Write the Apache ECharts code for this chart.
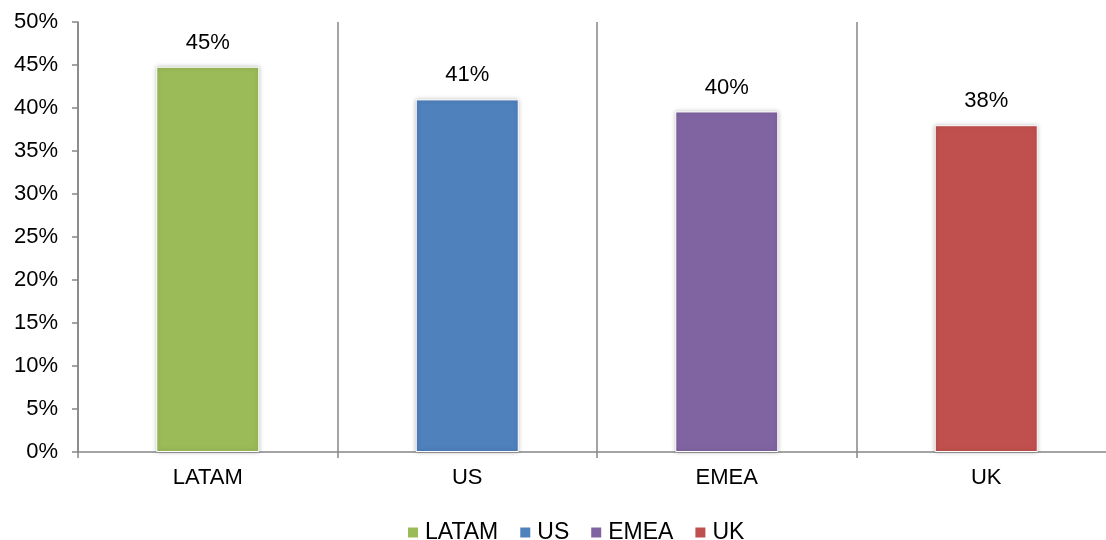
<!DOCTYPE html>
<html>
<head>
<meta charset="utf-8">
<script src="https://cdn.jsdelivr.net/npm/echarts@6/dist/echarts.min.js"></script>
<style>
  html, body { margin: 0; padding: 0; background: #ffffff; }
  #chart { width: 1106px; height: 540px; }
</style>
</head>
<body>
<div id="chart"></div>
<script>
// Regions shown along the category axis
const regions = ['LATAM', 'US', 'EMEA', 'UK'];
// Share per region, in percent
const shares = [44.8, 41.0, 39.6, 38.0];
// Fill colour for each region's bar
const regionColors = ['#9BBB59', '#4F81BD', '#8064A2', '#C0504D'];
// Value axis tick labels
const yTicks = [0, 5, 10, 15, 20, 25, 30, 35, 40, 45, 50];

const FONT = '"Liberation Sans", Arial, sans-serif';
const FS = 22;

// One series per region so each gets its own legend entry; the bars overlap on the
// shared category slot, and each series only holds a value at its own category.
const series = regions.map((name, i) => ({
  name: name,
  type: 'bar',
  barWidth: 103,
  barGap: '-100%',
  data: regions.map((_, j) => (j === i ? shares[i] : null)),
  itemStyle: {
    color: regionColors[i],
    borderColor: '#ffffff',
    borderWidth: 1,
    shadowBlur: 4,
    shadowColor: 'rgba(0,0,0,0.25)'
  },
  label: {
    show: true,
    position: 'top',
    distance: 13,
    formatter: p => Math.round(p.value) + '%',
    color: '#000000',
    fontFamily: FONT,
    fontSize: FS
  }
}));

const chart = echarts.init(document.getElementById('chart'), null, { renderer: 'canvas' });
chart.setOption({
  animation: false,
  backgroundColor: '#ffffff',
  // The last category band runs slightly past the right edge of the canvas
  grid: { left: 78, width: 1038, top: 22, height: 430, containLabel: false, outerBoundsMode: 'none' },
  legend: {
    data: regions,
    left: 403,
    top: 516,
    icon: 'rect',
    itemWidth: 10,
    itemHeight: 10,
    itemGap: 22,
    itemStyle: { borderWidth: 0, shadowBlur: 0 },
    textStyle: { color: '#000000', fontFamily: FONT, fontSize: 23, padding: [0, 0, 0, 2] }
  },
  xAxis: {
    type: 'category',
    data: regions,
    boundaryGap: true,
    axisLine: { show: true, lineStyle: { color: '#868686', width: 1.5 } },
    axisTick: { show: true, length: 6, interval: 0, lineStyle: { color: '#868686', width: 1.5 } },
    splitLine: { show: true, interval: 0, lineStyle: { color: '#868686', width: 1.5 } },
    axisLabel: { color: '#000000', fontFamily: FONT, fontSize: FS, margin: 15 }
  },
  yAxis: {
    type: 'value',
    min: yTicks[0],
    max: yTicks[yTicks.length - 1],
    interval: yTicks[1] - yTicks[0],
    axisLine: { show: true, lineStyle: { color: '#868686', width: 1.5 } },
    axisTick: { show: true, length: 6, lineStyle: { color: '#868686', width: 1.5 } },
    splitLine: { show: false },
    axisLabel: {
      color: '#000000', fontFamily: FONT, fontSize: FS, margin: 20,
      formatter: v => v + '%'
    }
  },
  series: series
});
</script>
</body>
</html>
